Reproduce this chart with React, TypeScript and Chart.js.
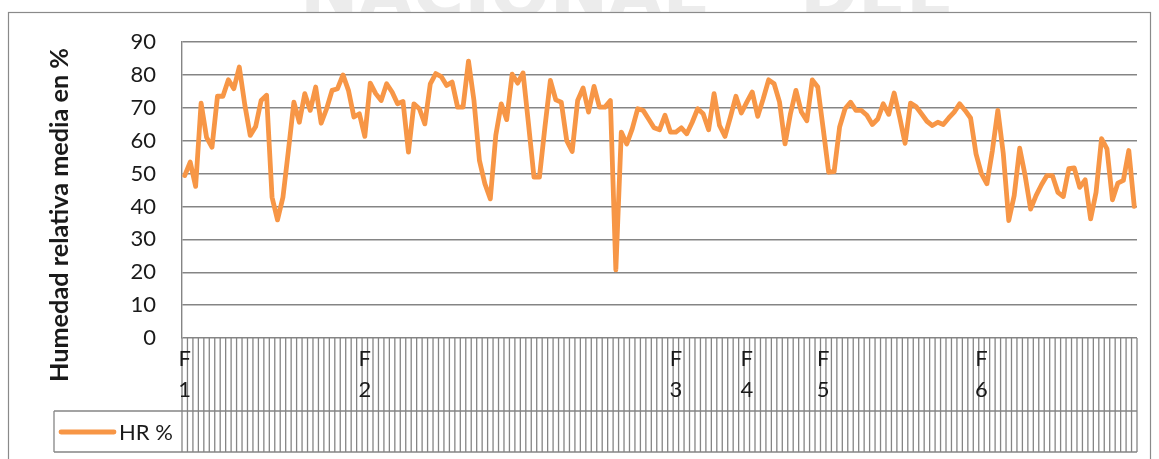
import React, { useEffect, useRef } from "react";
import { Chart, registerables } from "chart.js";

Chart.register(...registerables);

// ---- data ----
const humidity: number[] = [
  49.4, 53.5, 46.1, 71.4, 61, 58, 73.5, 73.5, 78.5, 75.8,
  82.4, 71, 61.6, 64.3, 72.2, 73.8, 42.8, 35.9, 42.8, 57,
  71.7, 65.6, 74.3, 69.2, 76.3, 65.3, 69.7, 75.3, 75.8, 80,
  75.3, 67.2, 68.2, 61.3, 77.5, 74.3, 72.2, 77.3, 74.8, 71.2,
  71.9, 56.5, 71.2, 69.7, 65.1, 77.3, 80.4, 79.5, 76.8, 77.8,
  70.2, 70.2, 84.2, 72.2, 54, 46.9, 42.3,
  61.6, 71.2, 66.4, 80.2, 77.5, 80.6, 65, 48.9, 48.9, 64.1,
  78.3, 72.4, 71.7, 60, 56.7, 72.2, 76, 68.7, 76.5, 70.2,
  70.2, 72.2, 20.7, 62.6, 59, 63.6, 69.7, 69.2, 66.6, 63.9,
  63.3, 67.7, 62.6, 62.6, 63.9, 62.1, 65.6, 69.7, 68.2, 63.3,
  74.3, 64.6, 61.3, 67.2, 73.5, 68.4, 71.7, 74.8, 67.4, 72.7,
  78.5, 77.3, 71.7, 59, 68.2, 75.3, 68.7, 66.1, 78.5, 76.3,
  63.6, 50.4, 50.6, 64.1, 69.7, 71.7, 69.2, 69.2, 67.7, 64.9,
  66.6, 71.2, 68, 74.5, 67.2, 59.2, 71.4, 70.4, 68.2, 65.9,
  64.6, 65.6, 64.9, 66.9, 68.7, 71.2, 69.2, 66.9, 56, 49.9,
  46.9, 57, 69.2, 56, 35.7, 43.3, 57.7, 49.4, 39.2, 43.3,
  46.6, 49.4, 49.4, 44.3, 43, 51.5, 51.7, 45.8, 48.1, 36.2,
  44.3, 60.6, 57.5, 42, 47.1, 47.9, 57, 40,
];

// category positions that carry a label, and their text
const markIndex: number[] = [0, 33, 90, 103, 117, 146];
const markText: string[] = ["F 1", "F 2", "F 3", "F 4", "F 5", "F 6"];

const categories: string[] = humidity.map((_, i) => {
  const k = markIndex.indexOf(i);
  return k >= 0 ? markText[k] : "";
});

const yMin = 0;
const yMax = 90;
const yStep = 10;
const seriesName = "HR %";
const yTitle = "Humedad relativa media en %";
const watermarkWords: string[] = ["NACIONAL", "DEL"];

const LINE_COLOR = "#F79646";
const GRID_COLOR = "#858585";
const TEXT_COLOR = "#1a1a1a";
const FONT = "Lato, 'Open Sans', sans-serif";

const tablePlugin = {
  id: "excelTable",
  beforeDraw(chart: any) {
    const { ctx } = chart;
    ctx.save();
    // faint scanned watermark peeking in above the chart frame
    ctx.beginPath();
    ctx.rect(0, 0, 1159, 12);
    ctx.clip();
    ctx.fillStyle = "#ececec";
    ctx.font = "bold 70px 'DejaVu Sans', sans-serif";
    ctx.textBaseline = "alphabetic";
    ctx.textAlign = "left";
    ctx.fillText(watermarkWords[0], 300, 16);
    ctx.fillText(watermarkWords[1], 800, 16);
    ctx.restore();
  },
  afterDraw(chart: any) {
    const { ctx, chartArea: a, scales } = chart;
    const x = scales.x;
    const n = chart.data.labels.length;
    const half = (x.getPixelForValue(1) - x.getPixelForValue(0)) / 2;
    const rowTop = a.bottom;
    const rowMid = 411;
    const rowBot = 452;
    const legendLeft = 54;

    const line = (x1: number, y1: number, x2: number, y2: number) => {
      ctx.beginPath();
      ctx.moveTo(x1, y1);
      ctx.lineTo(x2, y2);
      ctx.stroke();
    };

    ctx.save();
    // outer chart border
    ctx.strokeStyle = "#8a8a8a";
    ctx.lineWidth = 1.2;
    ctx.strokeRect(8.5, 12.5, 1142, 470);

    // table grid
    ctx.strokeStyle = GRID_COLOR;
    ctx.lineWidth = 1.3;
    for (let k = 0; k <= n; k++) {
      const px =
        k < n ? x.getPixelForValue(k) - half : x.getPixelForValue(n - 1) + half;
      line(px, rowTop, px, rowBot);
    }
    line(legendLeft, rowMid, a.right, rowMid);
    line(legendLeft, rowBot, a.right, rowBot);
    line(legendLeft, rowMid, legendLeft, rowBot);

    // category labels (wrapped on two lines)
    ctx.fillStyle = TEXT_COLOR;
    ctx.font = `22px ${FONT}`;
    ctx.textAlign = "center";
    ctx.textBaseline = "middle";
    categories.forEach((lab, i) => {
      if (!lab) return;
      const cx = x.getPixelForValue(i);
      const parts = lab.split(" ");
      ctx.fillText(parts[0], cx, 359);
      ctx.fillText(parts[1], cx, 390);
    });

    // legend key
    ctx.strokeStyle = LINE_COLOR;
    ctx.lineWidth = 4.8;
    ctx.lineCap = "round";
    line(61, 432, 114, 432);
    ctx.fillStyle = TEXT_COLOR;
    ctx.font = `22px ${FONT}`;
    ctx.textAlign = "left";
    ctx.fillText(seriesName, 119, 433);

    // y axis title
    ctx.save();
    ctx.translate(60, 215);
    ctx.rotate(-Math.PI / 2);
    let size = 22;
    ctx.font = `bold ${size}px ${FONT}`;
    const w = ctx.measureText(yTitle).width;
    size = (size * 334) / w;
    ctx.font = `bold ${size}px ${FONT}`;
    ctx.textAlign = "center";
    ctx.textBaseline = "middle";
    ctx.fillStyle = TEXT_COLOR;
    ctx.fillText(yTitle, 0, 0);
    ctx.restore();

    ctx.restore();
  },
};

export default function App() {
  const ref = useRef<HTMLCanvasElement>(null);
  useEffect(() => {
    document.body.style.margin = "0";
    document.body.style.background = "#ffffff";
    const chart = new Chart(ref.current as HTMLCanvasElement, {
      type: "line",
      data: {
        labels: categories,
        datasets: [
          {
            label: seriesName,
            data: humidity,
            borderColor: LINE_COLOR,
            backgroundColor: LINE_COLOR,
            borderWidth: 4.8,
            pointRadius: 0,
            tension: 0,
            borderJoinStyle: "round",
            borderCapStyle: "round",
          },
        ],
      },
      options: {
        animation: false,
        responsive: false,
        maintainAspectRatio: false,
        layout: { padding: { left: 0, top: 42, right: 22, bottom: 121 } },
        plugins: {
          legend: { display: false },
          tooltip: { enabled: false },
        },
        scales: {
          x: {
            type: "category",
            offset: true,
            display: false,
          },
          y: {
            min: yMin,
            max: yMax,
            ticks: {
              stepSize: yStep,
              padding: 26,
              color: TEXT_COLOR,
              font: { family: FONT, size: 22 },
            },
            grid: { color: GRID_COLOR, lineWidth: 1.4, drawTicks: false },
            border: { display: true, color: GRID_COLOR, width: 1.4 },
            afterFit: (s: any) => {
              s.width = 182;
            },
          },
        },
      },
      plugins: [tablePlugin],
    });
    return () => chart.destroy();
  }, []);
  return (
    <div style={{ width: 1159, height: 459, position: "relative" }}>
      <canvas ref={ref} width={1159} height={459} style={{ display: "block" }} />
    </div>
  );
}
